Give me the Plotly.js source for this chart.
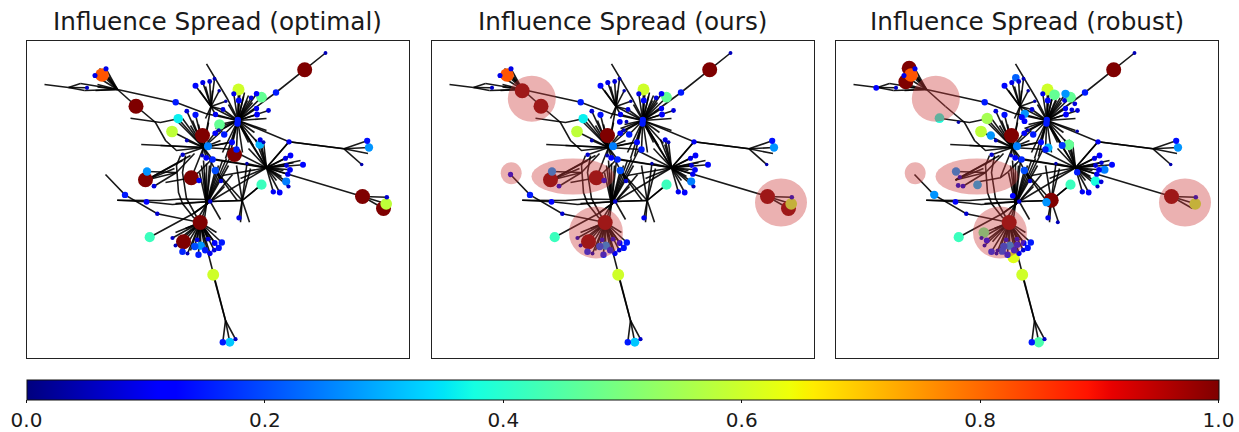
<!DOCTYPE html>
<html><head><meta charset="utf-8">
<script src="https://cdn.plot.ly/plotly-3.0.1.min.js"></script>
<style>html,body{margin:0;padding:0;background:#fff}</style></head>
<body><div id="chart" style="width:1239px;height:432px"></div>
<script>
const panelTitles = ["Influence Spread (optimal)", "Influence Spread (ours)", "Influence Spread (robust)"];
const colorTicks = [0, 0.2, 0.4, 0.6, 0.8, 1];

// Network nodes as [x, y, influence], in the drawing's layout units.
const nodesAllPanels = [
[101.5,74.5,.82],[105.5,68.3,.09],[94.5,75,.09],[86.5,87.3,.06],[175.2,101.7,.15],[171.5,131,.58],[202,135,1],
[195,85.3,.13],[202.3,82,.09],[209.2,81,.08],[214,78.3,.05],[195,114.3,.14],[186.3,110.7,.08],[218.7,90.3,.04],
[238,89,.6],[261,96.7,.47],[275.5,92,.15],[304.2,69.2,1],[325,52.5,.05],[238.3,100,.13],[233.3,93.3,.09],
[256,108,.1],[268,110,.08],[256.5,114,.12],[225.3,100.7,.04],[222.5,109,.08],[237.3,119.5,.15],[237,123,.15],
[214.7,132.7,.11],[223.7,134,.15],[218.3,129.8,.05],[207.5,145.8,.25],[231.5,141.7,.13],[236,149,.15],[288.5,141.3,.1],
[290,155,.12],[285,157.7,.09],[302.5,164.3,.13],[286,165,.08],[289.5,169.3,.12],[287.3,173.7,.1],[288,186,.06],
[279.2,192,.12],[272.8,191.3,.1],[261,184.2,.42],[246.4,163,.04],[220.5,180.5,.07],[214.8,170,.2],[212,159,.16],
[205.7,157.3,.12],[201.7,155,.05],[182.2,154.3,.07],[186.3,140,.05],[366.7,140.3,.14],[368.5,147,.27],[361.2,164,.04],
[362,196,1],[386.3,196.7,.07],[385.7,203.3,.58],[146,201.3,.12],[156.8,213.3,.07],[199.7,222,1],[149.2,236.7,.42],
[153.5,185.7,.08],[146.5,171,.27],[212.7,274.3,.6],[238.5,217.3,.1],[222.3,341.7,.15],[235,338.7,.06],
[172,237.5,.06],[175,245,.05],[194.3,246,.2],[200.3,245.2,.27],[198,254.3,.15],[204.7,249.7,.15],[207.5,238.7,.08],
[214.2,242.5,.12],[221.3,242,.15],[218.3,247.4,.14],[213.7,249.7,.08],[209.5,253,.1],[187,253,.05],[182,251.2,.16],
[196.7,239.3,.08],[209.7,201,.07]
];
const nodesOptimalOurs = [
[135.5,105.7,1],[177.7,118.2,.36],[256,93.3,.11],[250.7,97.3,.08],[259.7,139.3,.09],[263,141.7,.05],[145,179.3,1],
[190.8,177.3,1],[198.5,180,.1],[383,208,1],[285.7,181,.25],[215,114,.1],[183,241.3,1],[124.5,194.4,.15],[229.3,341.7,.32]
];
const nodesOptimalOnly = [[219,124,.47],[259.3,144,.3],[234,154,1]];
const nodesOursOnly = [[116.7,90.3,1],[105,174,.1],[214.3,121.3,.12],[221,121.3,.05]];
const nodesRobustOnly = [
[99.7,67.7,1],[96.3,81.3,1],[66.7,87.3,.12],[130,117.7,.38],[149,121.7,.04],[177.7,118,.55],[181.3,135,.27],
[206.3,77.3,.22],[215.3,113.3,.27],[212.3,116.7,.13],[215,120.7,.12],[245,94.3,.47],[256,93.3,.27],[255,100,.08],
[265.3,103.3,.08],[262.3,109.3,.08],[267.7,130.7,.04],[238.7,147.3,.3],[252.7,145,.18],[259.3,144.3,.47],[292,162.3,.07],
[295,169.3,.25],[267.7,171.7,.15],[286,180.7,.38],[291.7,181.3,.08],[150.3,176.7,.06],[148.7,185,.08],[168,184.3,.3],
[124.7,194.3,.27],[203.3,195.3,.12],[241.7,199.7,1],[237,201.7,.27],[248.3,221.7,.05],[174.3,232,.47],[177.3,240,.13],
[192.7,250.7,.2],[204,256.7,.62],[207.7,244.3,.15],[188,250,.05],[229.3,341.7,.44]
];

// Network links: each hub with the points it fans out to.
const hubFans = [
{hub:[117,89],ends:[[101.5,74.5],[105.5,68.3],[94.5,75],[99,68],[103,72],[108,76],[136,106]]},
{hub:[68,87],ends:[[44,84],[86.5,87.3],[80,83],[84,90]]},
{hub:[117,89],ends:[[97,84],[97,86.5],[95,90],[84,90],[80,83]]},
{hub:[210.5,106],ends:[[195,85.3],[202.3,82],[209.2,81],[214,78.3],[199,90],[205,86],[212,90],[218.7,90.3],[222.5,109],[215,114],[205,118],[225.3,100.7]]},
{hub:[237.3,120],ends:[[238,89],[233.3,93.3],[239.3,94.3],[238.3,100],[244,92],[248,95],[256,93.3],[250.7,97.3],[261,96.7],[256,108],[268,110],[256.5,114],[266,118],[243,96],[247,100],[252,102],[228,104],[222.5,109],[210.5,106],[215,114],[219,124],[223.7,134],[214.7,132.7],[218.3,129.8],[231.5,141.7],[236,149],[252.7,145],[258,143],[266,130],[225,158],[222,152],[229,156],[242,152],[248,142],[254,132],[215,128]]},
{hub:[203,147],ends:[[177.7,118.2],[171.5,131],[186.3,110.7],[195,114.3],[186.3,140],[182.2,154.3],[190,125],[176,120],[182,118],[192,120],[198,124],[210.5,106],[208,122],[220,140],[212,159],[236,149],[228,142],[218,128],[205.7,157.3],[201.7,155],[220.5,180.5],[191,177],[231.5,141.7],[222,130],[140.7,144],[160,145]]},
{hub:[266,167.3],ends:[[290,155],[285,157.7],[300,160],[302.5,164.3],[286,165],[289.5,169.3],[287.3,173.7],[285.7,181],[288,186],[279.2,192],[272.8,191.3],[293,162.3],[283,170],[281,176],[276,180],[288.5,141.3],[259.7,139.3],[263,141.7],[259.3,144],[255,139],[246.4,163],[212,159],[205.7,157.3],[222,175],[240,178],[237.3,122],[241,126],[248,148],[232,150],[362,196]]},
{hub:[206,204],ends:[[199,172],[201,165],[203,160],[204,172],[206,163],[209,165],[211,160],[214.8,170],[218,165],[222,160],[226,158],[233,150],[228,165],[196,220],[200,222],[204,218]]},
{hub:[199.7,222],ends:[[175,232],[172,237.5],[175,245],[177,240],[183,241.3],[182,251.2],[187,253],[190,250],[194.3,246],[196.7,239.3],[198,254.3],[200.3,245.2],[204.7,249.7],[207.5,238.7],[209.5,253],[213.7,249.7],[214.2,242.5],[218.3,247.4],[221.3,242],[216,232],[192,230],[185,228],[203,236],[210,240]]},
{hub:[241.7,200],ends:[[238.5,217.3],[240,221.7],[249,221.7],[246.4,163],[261,184.2],[236,165],[209.7,201],[214.8,170],[250,168]]},
{hub:[209.7,201],ends:[[220,219],[224,186],[232,174],[266,167.3],[193,213],[175,203]]},
{hub:[225,320],ends:[[222.3,341.7],[229.3,341.7],[235,338.7],[212.7,274.3]]},
{hub:[343.5,148.3],ends:[[366.7,140.3],[368.5,147],[367.5,153],[361.2,164],[288.5,141.3]]},
{hub:[362,196],ends:[[386.3,196.7],[385.7,203.3],[383,208]]},
{hub:[146,179.5],ends:[[176,172],[190,155],[182,160],[174,168]]},
{hub:[176,172],ends:[[146.5,171],[153.5,185.7],[194,153]]}
];
const linkPaths = [
[117,89,175.2,101.7,205,113,237.3,120],
[136,106,155,122,165,140,176,150,203,147],
[130,117.7,160,122,177.7,118.2],
[180,155,176,165,178,192,182,203,193,217,199.7,222],
[185,155,182,172,186,198,197,218],
[105,174,124.5,194.4,156.8,213.3,199.7,222],
[116.7,199.7,146,201.3,172,204,209.7,201],
[116.7,199.7,160,200,180,198.5,209.7,199],
[209.7,201,241.7,200],
[149.2,236.7,193,213,209.7,201],
[165,182,190.8,177.3,198,172,210,160],
[199.7,222,207,250,212.7,274.3,225,320],
[237.3,120,275.5,92,304.2,69.2,325,52.5],
[206,63.3,226.7,98,237,118],
[237.3,120,288.5,141.3,343.5,148.3],
[288.5,141.3,266,167.3],
[214.8,170,236.7,200],
[241.7,200,261,184.2]
];

// Highlighted regions (panels 2 and 3), as centre and half-widths.
const regionCx = [126.3, 105.7, 167.5, 190.5, 375.5];
const regionCy = [98.3, 172.7, 176, 232, 202];
const regionRx = [24, 10.5, 41.5, 27, 26];
const regionRy = [23, 11, 18, 26, 24];

// matplotlib "jet"
const jet = [[0,'rgb(0,0,127)'],[.11,'rgb(0,0,255)'],[.125,'rgb(0,0,255)'],[.34,'rgb(0,219,255)'],[.35,'rgb(0,230,247)'],
[.375,'rgb(21,255,226)'],[.64,'rgb(239,255,8)'],[.65,'rgb(247,246,0)'],[.66,'rgb(255,236,0)'],[.89,'rgb(255,19,0)'],
[.91,'rgb(232,0,0)'],[1,'rgb(127,0,0)']];

const W = 1239, H = 432;
const panelLeft = [26.5, 431.5, 835.5], panelWidth = 382, panelTop = 40.5, panelBottom = 357.5;
const xRange = [26, 408], yRange = [357, 40];

const linkX = [], linkY = [];
hubFans.forEach(f => f.ends.forEach(e => { linkX.push(f.hub[0], e[0], null); linkY.push(f.hub[1], e[1], null); }));
linkPaths.forEach(p => { for (let i = 0; i < p.length; i += 2) { linkX.push(p[i]); linkY.push(p[i+1]); } linkX.push(null); linkY.push(null); });

const panelNodes = [
  nodesAllPanels.concat(nodesOptimalOurs, nodesOptimalOnly),
  nodesAllPanels.concat(nodesOptimalOurs, nodesOursOnly),
  nodesAllPanels.concat(nodesRobustOnly)
].map(list => list.slice().sort((a, b) => b[2] - a[2]));

const traces = [], layout = {
  width: W, height: H, margin: {l:0, r:0, t:0, b:0, autoexpand: false}, showlegend: false, paper_bgcolor: '#fff', plot_bgcolor: '#fff',
  font: {family: 'DejaVu Sans', color: '#1a1a1a'}, shapes: [], annotations: []
};
panelNodes.forEach((nodes, i) => {
  const s = i ? String(i + 1) : '';
  layout['xaxis' + s] = {range: xRange, domain: [panelLeft[i] / W, (panelLeft[i] + panelWidth) / W], showgrid: false, zeroline: false,
    showticklabels: false, ticks: '', showline: true, mirror: true, linecolor: '#222', linewidth: 1, fixedrange: true, anchor: 'y' + s};
  layout['yaxis' + s] = {range: yRange, domain: [1 - panelBottom / H, 1 - panelTop / H], showgrid: false, zeroline: false,
    showticklabels: false, ticks: '', showline: true, mirror: true, linecolor: '#222', linewidth: 1, fixedrange: true, anchor: 'x' + s};
  traces.push({type: 'scatter', mode: 'lines', xaxis: 'x' + s, yaxis: 'y' + s, x: linkX, y: linkY,
    line: {color: 'rgba(0,0,0,0.9)', width: 1.6}, hoverinfo: 'skip'});
  const marker = {color: nodes.map(n => n[2]), size: nodes.map(n => 15 * Math.pow(n[2], 0.45)), cmin: 0, cmax: 1, colorscale: jet,
    line: {width: 0}, opacity: 1};
  if (i === 0) marker.colorbar = {orientation: 'h', lenmode: 'pixels', len: 1191.5, thicknessmode: 'pixels', thickness: 20,
    x: 26.5 / W, xanchor: 'left', y: -0.003, yanchor: 'bottom', xpad: 0, ypad: 0, outlinecolor: '#111', outlinewidth: 1,
    tickmode: 'array', tickvals: colorTicks, ticktext: colorTicks.map(v => v.toFixed(1)), ticks: 'outside', ticklen: 3,
    tickcolor: '#111', tickwidth: 1, tickfont: {family: 'DejaVu Sans', size: 20, color: '#1a1a1a'}};
  traces.push({type: 'scatter', mode: 'markers', xaxis: 'x' + s, yaxis: 'y' + s, x: nodes.map(n => n[0]), y: nodes.map(n => n[1]),
    marker, hoverinfo: 'skip'});
  layout.annotations.push({text: panelTitles[i], xref: 'x' + s + ' domain', yref: 'y' + s + ' domain', x: 0.5, y: 1, yshift: 2,
    xanchor: 'center', yanchor: 'bottom', showarrow: false, font: {family: 'DejaVu Sans', size: 24.7, color: '#1a1a1a'}});
  if (i > 0) regionCx.forEach((cx, k) => layout.shapes.push({type: 'circle', xref: 'x' + s, yref: 'y' + s, layer: 'above',
    x0: cx - regionRx[k], x1: cx + regionRx[k], y0: regionCy[k] - regionRy[k], y1: regionCy[k] + regionRy[k],
    fillcolor: 'rgba(205,60,60,0.4)', line: {width: 0}}));
});
Plotly.newPlot('chart', traces, layout, {staticPlot: true, displayModeBar: false});
</script></body></html>
